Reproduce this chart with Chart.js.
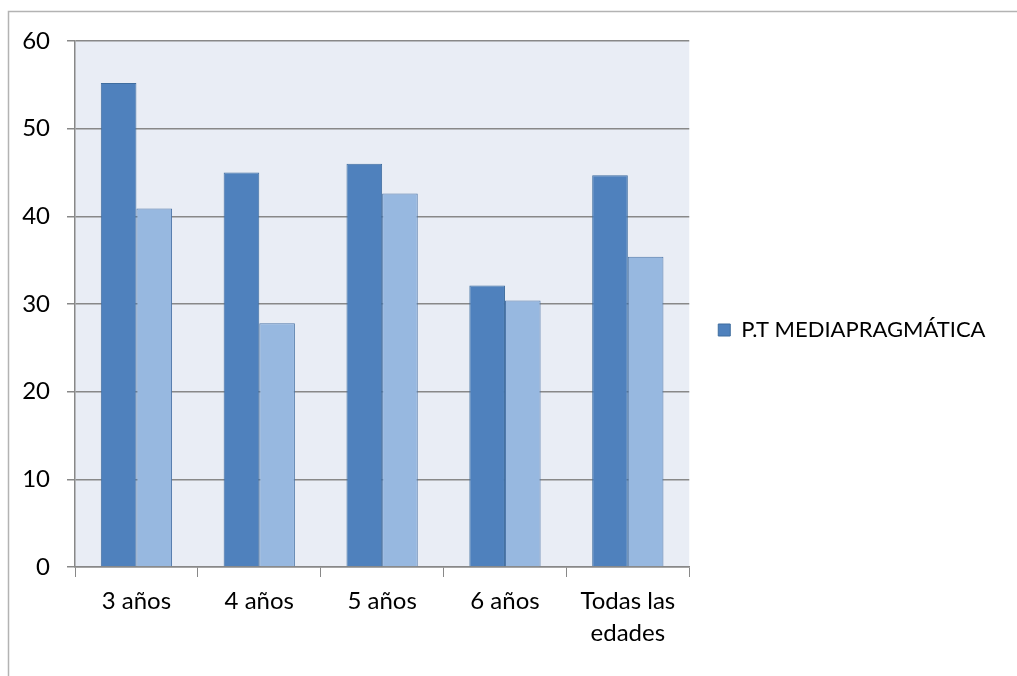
<!DOCTYPE html>
<html>
<head>
<meta charset="utf-8">
<script src="https://cdn.jsdelivr.net/npm/chart.js@4"></script>
<style>
  html, body { margin: 0; padding: 0; background: #fff; }
  #wrap { width: 1017px; height: 676px; position: relative; }
</style>
</head>
<body>
<div id="wrap"><canvas id="chart"></canvas></div>
<script>
const categories = ['3 años', '4 años', '5 años', '6 años', ['Todas las', 'edades']];
const serieOscura = [55.2, 45.0, 46.0, 32.1, 44.7];
const serieClara = [40.9, 27.8, 42.6, 30.4, 35.4];
const yTicks = [0, 10, 20, 30, 40, 50, 60];

const FONT = "Lato, sans-serif";

// fondo del area de trazado y marco exterior
const fondo = {
    id: 'fondo',
    afterLayout(chart) {
        // la leyenda se corta en su caja: la ensanchamos y la centramos como en el original
        const lg = chart.legend;
        if (lg) {
            lg.right = 1017; lg.width = lg.right - lg.left;
            lg.bottom = 619; lg.height = lg.bottom - lg.top;
        }
    },
    beforeDraw(chart) {
        const ctx = chart.ctx;
        const a = chart.chartArea;
        ctx.save();
        ctx.fillStyle = '#e9edf5';
        ctx.fillRect(a.left, a.top, a.right - a.left, a.bottom - a.top);
        ctx.strokeStyle = '#b3b3b3';
        ctx.lineWidth = 1.5;
        ctx.beginPath();
        ctx.moveTo(8.5, 676);
        ctx.lineTo(8.5, 11.5);
        ctx.lineTo(1017, 11.5);
        ctx.stroke();
        ctx.restore();
    }
};

const ctx = document.querySelector('#chart').getContext('2d');

const myChart = new Chart(ctx, {
    type: 'bar',
    data: {
        labels: categories,
        datasets: [{
            label: 'P.T MEDIAPRAGMÁTICA',
            data: serieOscura,
            backgroundColor: '#4f81bd',
            borderColor: '#3f6d9f',
            borderWidth: 1
        }, {
            label: 'serie2',
            data: serieClara,
            backgroundColor: '#97b8e0',
            borderColor: '#4f77a8',
            borderWidth: 1
        }]
    },
    options: {
        responsive: true,
        maintainAspectRatio: false,
        animation: false,
        layout: { padding: { left: 0, top: 41, right: 98, bottom: 0 } },
        datasets: { bar: { categoryPercentage: 0.58, barPercentage: 1 } },
        plugins: {
            tooltip: { enabled: false },
            legend: {
                position: 'right',
                labels: {
                    boxWidth: 12,
                    boxHeight: 12,
                    padding: 29,
                    color: '#000',
                    font: { family: FONT, size: 22 },
                    filter: item => item.datasetIndex === 0
                }
            }
        },
        scales: {
            x: {
                afterFit: s => { s.height = 109; },
                grid: {
                    offset: true,
                    drawOnChartArea: false,
                    tickLength: 10,
                    color: '#888'
                },
                border: { color: '#888', width: 1.5 },
                ticks: {
                    color: '#000',
                    padding: 8,
                    font: { family: FONT, size: 24, lineHeight: 1.33 },
                    maxRotation: 0
                }
            },
            y: {
                min: 0,
                max: 60,
                afterFit: s => { s.width = 75; },
                afterBuildTicks: s => { s.ticks = yTicks.map(v => ({ value: v })); },
                grid: { color: '#888', lineWidth: 1.5, tickLength: 8 },
                border: { color: '#888', width: 1.5 },
                ticks: {
                    color: '#000',
                    padding: 17,
                    font: { family: FONT, size: 24 }
                }
            }
        }
    },
    plugins: [fondo]
});
</script>
</body>
</html>
